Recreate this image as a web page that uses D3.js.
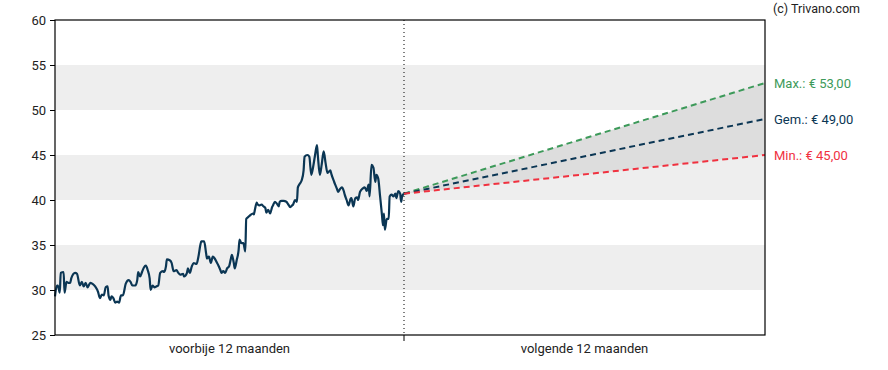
<!DOCTYPE html>
<html lang="nl">
<head>
    <meta charset="UTF-8">
    <script src="https://d3js.org/d3.v7.min.js"></script>
    <style>
        body { margin: 0; background: #fff; }
        text { font-family: Roboto, "Noto Sans", sans-serif; }
    </style>
</head>
<body>
    <svg width="888" height="370" id="chart"></svg>

    <script>
    // past 12 months: day offset and closing price
    const pastDays = [0,2,3,5,6,9,10,12,14,16,17,21,23,26,28,30,32,34,37,39,42,45,47,49,51,53,55,56,58,59,61,63,65,67,69,71,74,77,79,81,84,86,87,89,91,93,95,97,99,100,102,104,106,108,110,113,114,116,117,120,122,124,127,129,131,134,135,138,139,141,143,145,148,150,152,153,156,158,159,161,163,165,167,169,171,173,174,176,178,180,182,184,185,187,188,190,192,193,195,197,199,200,202,204,207,208,209,211,212,214,216,218,220,221,223,225,227,228,230,232,234,235,237,239,242,244,246,248,249,251,253,254,256,258,260,261,264,266,268,270,272,274,275,277,279,281,283,285,288,289,292,295,296,298,300,302,303,305,307,309,310,312,314,316,317,319,322,324,326,328,329,331,333,335,336,338,340,342,343,344,345,347,349,350,352,354,356,357,359,361,362,363,365];
    const pastPrices = [29.3,30.5,30.5,29.7,31.9,32.0,29.7,30.9,30.8,30.8,31.3,31.9,31.8,30.5,30.9,30.4,30.8,30.3,30.8,30.7,30.4,29.8,29.1,29.5,29.4,30.3,30.4,29.4,28.9,29.3,29.1,28.6,28.7,28.6,29.4,29.4,30.7,31.1,30.9,30.5,30.5,31.1,32.0,31.5,32.0,32.5,32.7,32.2,31.3,30.0,30.5,30.3,30.4,30.5,31.9,32.1,32.0,32.6,33.4,33.3,33.0,32.1,32.2,31.9,31.7,31.8,31.5,31.9,32.4,31.9,32.6,33.0,32.9,33.7,35.0,35.4,35.4,34.1,33.5,33.7,33.0,33.7,33.5,33.1,32.7,32.2,31.9,32.1,31.9,32.4,32.6,33.5,33.9,33.0,32.4,33.3,34.4,35.6,35.2,35.2,34.3,37.9,38.1,38.3,38.5,38.4,38.9,39.7,39.5,39.4,39.5,39.3,39.1,38.6,38.9,38.5,39.2,39.4,39.8,39.6,39.3,39.8,39.9,39.9,39.8,39.5,39.2,39.4,39.5,40.0,39.8,41.4,41.8,42.2,43.3,44.8,45.0,44.8,42.8,43.7,45.0,46.1,44.8,42.8,44.0,45.4,44.1,43.0,43.3,42.9,42.0,41.2,40.9,41.2,41.4,41.0,40.6,40.0,39.4,40.1,40.2,39.3,40.2,40.3,40.0,40.9,41.3,41.4,41.0,41.7,40.4,43.9,43.6,42.0,42.8,42.4,40.4,38.3,37.2,38.5,36.7,37.9,37.9,40.4,40.6,40.4,40.7,40.2,41.0,40.7,39.8,40.4,40.7];

    // forecast for the next 12 months
    const forecastDays = [365, 730];
    const forecastMax = [40.7, 53];
    const forecastAvg = [40.7, 49];
    const forecastMin = [40.7, 45];
    const forecastLabels = ["Max.: € 53,00", "Gem.: € 49,00", "Min.: € 45,00"];

    const yTicks = [25, 30, 35, 40, 45, 50, 55, 60];
    const bands = [[30, 35], [40, 45], [50, 55]];
    const periodLabels = ["voorbije 12 maanden", "volgende 12 maanden"];

    const svg = d3.select("#chart");
    const plotLeft = 55, plotRight = 765, plotTop = 20, plotBottom = 335, split = 404;

    const xScale = d3.scaleLinear().domain([0, 365, 730]).range([plotLeft, split, plotRight]);
    const yScale = d3.scaleLinear().domain([25, 60]).range([plotBottom, plotTop]);

    const navy = "#0b3654", green = "#3d9a5a", red = "#f0313f";

    // grey bands
    svg.selectAll("rect.band")
        .data(bands)
        .enter().append("rect")
        .attr("x", plotLeft)
        .attr("width", plotRight - plotLeft)
        .attr("y", d => yScale(d[1]))
        .attr("height", d => yScale(d[0]) - yScale(d[1]))
        .attr("fill", "#eeeeee");

    // forecast area between min and max
    const fData = forecastDays.map((d, i) => ({ d: d, max: forecastMax[i], avg: forecastAvg[i], min: forecastMin[i] }));
    svg.append("path")
        .datum(fData)
        .attr("fill", "#dddddd")
        .attr("d", d3.area().x(d => xScale(d.d)).y0(d => yScale(d.min)).y1(d => yScale(d.max)));

    // past price line
    const past = pastDays.map((d, i) => ({ d: d, v: pastPrices[i] }));
    svg.append("path")
        .datum(past)
        .attr("fill", "none")
        .attr("stroke", navy)
        .attr("stroke-width", 2.2)
        .attr("stroke-linejoin", "round")
        .attr("d", d3.line().curve(d3.curveMonotoneX).x(d => xScale(d.d)).y(d => yScale(d.v)));

    // forecast dashed lines
    const lines = [["max", green], ["avg", navy], ["min", red]];
    lines.forEach(function(l) {
        svg.append("path")
            .datum(fData)
            .attr("fill", "none")
            .attr("stroke", l[1])
            .attr("stroke-width", 2)
            .attr("stroke-dasharray", "6,4")
            .attr("d", d3.line().x(d => xScale(d.d)).y(d => yScale(d[l[0]])));
    });

    // dotted divider
    svg.append("line")
        .attr("x1", split).attr("x2", split)
        .attr("y1", plotTop).attr("y2", plotBottom)
        .attr("stroke", "#000")
        .attr("stroke-width", 1)
        .attr("stroke-dasharray", "1,3");

    // frame
    svg.append("rect")
        .attr("x", plotLeft).attr("y", plotTop)
        .attr("width", plotRight - plotLeft).attr("height", plotBottom - plotTop)
        .attr("fill", "none")
        .attr("stroke", "#000")
        .attr("stroke-width", 1.2);

    // y axis
    const yAxis = svg.append("g")
        .attr("transform", "translate(" + plotLeft + ",0)")
        .call(d3.axisLeft(yScale).tickValues(yTicks).tickSize(5).tickPadding(4));
    yAxis.select(".domain").remove();
    yAxis.selectAll("text").style("font-size", "13px").attr("fill", "#222");
    yAxis.selectAll("line").attr("stroke", "#000");

    // bottom tick at split
    svg.append("line")
        .attr("x1", split).attr("x2", split)
        .attr("y1", plotBottom).attr("y2", plotBottom + 6)
        .attr("stroke", "#000");

    // period labels
    svg.selectAll("text.period")
        .data(periodLabels)
        .enter().append("text")
        .attr("x", (d, i) => i === 0 ? (plotLeft + split) / 2 : (split + plotRight) / 2)
        .attr("y", 353)
        .attr("text-anchor", "middle")
        .style("font-size", "13px")
        .attr("fill", "#222")
        .text(d => d);

    // forecast labels
    const endVals = [forecastMax[1], forecastAvg[1], forecastMin[1]];
    svg.selectAll("text.flabel")
        .data(forecastLabels)
        .enter().append("text")
        .attr("x", plotRight + 9)
        .attr("y", (d, i) => yScale(endVals[i]))
        .attr("dy", "0.35em")
        .style("font-size", "13px")
        .attr("fill", (d, i) => lines[i][1])
        .text(d => d);

    svg.append("text")
        .attr("x", 773)
        .attr("y", 13)
        .style("font-size", "12.5px")
        .attr("fill", "#222")
        .text("(c) Trivano.com");
    </script>
</body>
</html>
